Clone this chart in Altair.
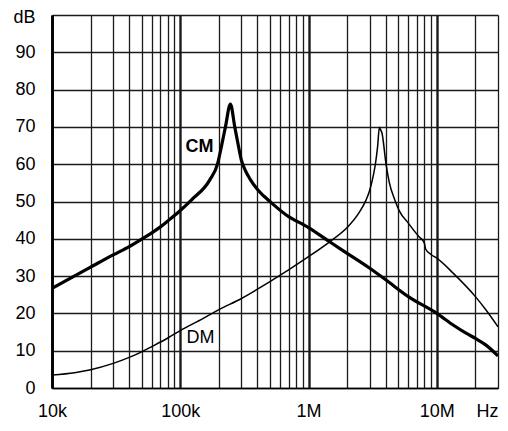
import altair as alt
import pandas as pd

# ---- data ----
cm_freq = [1e4, 2e4, 3e4, 4e4, 5e4, 6e4, 7e4, 8e4, 1e5, 1.22e5, 1.7e5, 1.95e5, 2.1e5, 2.25e5,
           2.46e5, 2.66e5, 2.8e5, 3.0e5, 3.2e5, 3.5e5, 4.0e5, 4.5e5, 5.0e5, 6.7e5, 1e6, 1.46e6,
           2e6, 3e6, 4e6, 6e6, 1e7, 1.34e7, 1.69e7, 2e7, 2.42e7, 3e7]
cm_db = [26.7, 32.4, 35.7, 37.9, 39.9, 41.6, 43.2, 44.8, 47.6, 50.4, 55.8, 60.0, 65.0, 70.0,
         76.1, 70.0, 66.0, 61.0, 58.5, 56.0, 53.2, 51.4, 50.0, 46.4, 43.0, 39.2,
         36.1, 32.1, 29.0, 24.5, 20.0, 16.9, 14.7, 13.3, 11.5, 8.6]

dm_freq = [1e4, 1.5e4, 2e4, 3e4, 4e4, 5e4, 6e4, 8e4, 1e5, 1.5e5, 2e5, 3e5, 4e5, 5e5, 1e6,
           1.46e6, 2e6, 2.5e6, 2.8e6, 3.0e6, 3.2e6, 3.32e6, 3.45e6, 3.57e6, 3.65e6, 3.74e6,
           4.02e6, 4.27e6, 4.7e6, 5.1e6, 6e6, 7.3e6, 7.8e6, 8.0e6, 8.2e6, 9e6, 1e7, 1.34e7,
           2e7, 2.42e7, 3e7]
dm_db = [3.5, 4.1, 4.9, 6.6, 8.2, 9.7, 11.1, 13.4, 15.4, 18.6, 21.0, 24.0, 26.5, 28.5, 35.2,
         39.2, 43.0, 47.2, 50.3, 53.0, 57.0, 60.0, 64.5, 69.9, 69.2, 68.3,
         60.0, 55.0, 50.5, 47.5, 44.2, 40.5, 39.5, 38.8, 37.2, 35.8, 34.8, 30.8,
         24.5, 20.9, 16.4]

label_names = ["CM", "DM"]
label_freq = [1.1e5, 1.12e5]
label_db = [64.5, 13.5]

x_label_values = [1e4, 1e5, 1e6, 1e7, 3e7]
x_label_texts = ["10k", "100k", "1M", "10M", "Hz"]
y_tick_values = [0, 10, 20, 30, 40, 50, 60, 70, 80, 90, 100]
y_tick_labels = ["0", "10", "20", "30", "40", "50", "60", "70", "80", "90", "dB"]

decades = [1e4, 1e5, 1e6, 1e7]
x_grid_values = [m * d for d in decades for m in range(1, 10) if m * d <= 3e7]

df = pd.concat([
    pd.DataFrame({"f": cm_freq, "db": cm_db, "s": "CM"}),
    pd.DataFrame({"f": dm_freq, "db": dm_db, "s": "DM"}),
])
lab = pd.DataFrame({"name": label_names, "f": label_freq, "db": label_db})


def label_expr(vals, texts):
    expr = "''"
    for v, t in reversed(list(zip(vals, texts))):
        expr = f"abs(datum.value - {v}) < {v}*1e-6 + 1e-9 ? '{t}' : ({expr})"
    return expr


FONT = "Liberation Sans"
dec_list = ",".join(str(int(d)) for d in decades)

x_scale = alt.Scale(type="log", domain=[1e4, 3e7], nice=False)
y_scale = alt.Scale(domain=[0, 100], nice=False)

x_axis = alt.Axis(
    values=x_grid_values, labelExpr=label_expr(x_label_values, x_label_texts),
    title=None, ticks=False, tickSize=0, labelPadding=14, labelFontSize=18,
    labelFont=FONT, labelColor="black", labelOverlap=False, labelFlush=False,
    labelBound=False,
    labelAlign={"condition": {"test": "datum.value > 2.9e7", "value": "right"}, "value": "center"},
    grid=True, gridColor="#1a1a1a",
    gridWidth={"condition": {"test": f"indexof([{dec_list}], datum.value) >= 0", "value": 2.4},
               "value": 1.3},
    gridOpacity=1, domainColor="black", domainWidth=1.3,
)
y_axis = alt.Axis(
    values=y_tick_values, labelExpr=label_expr(y_tick_values, y_tick_labels),
    title=None, ticks=False, tickSize=0, labelPadding=17, labelFontSize=18,
    labelFont=FONT, labelColor="black", labelOverlap=False, labelBound=False,
    labelOffset={"condition": {"test": "datum.value > 99", "value": 2.5}, "value": 0},
    grid=True, gridColor="#1a1a1a", gridWidth=1.3, gridOpacity=1,
    domainColor="black", domainWidth=2.8,
)

X = alt.X("f:Q", scale=x_scale, axis=x_axis)
Y = alt.Y("db:Q", scale=y_scale, axis=y_axis)

lines_dm = alt.Chart(df[df.s == "DM"]).mark_line(
    color="black", strokeWidth=1.5, interpolate="monotone", clip=True
).encode(x=X, y=Y)
lines_cm = alt.Chart(df[df.s == "CM"]).mark_line(
    color="black", strokeWidth=3.2, interpolate="monotone", clip=True
).encode(x=X, y=Y)

text_cm = alt.Chart(lab[lab.name == "CM"]).mark_text(
    align="left", baseline="middle", font=FONT, fontSize=18, fontWeight="bold", color="black"
).encode(x=X, y=Y, text="name:N")
text_dm = alt.Chart(lab[lab.name == "DM"]).mark_text(
    align="left", baseline="middle", font=FONT, fontSize=18, color="black"
).encode(x=X, y=Y, text="name:N")

chart = alt.layer(lines_dm, lines_cm, text_cm, text_dm).properties(
    width=446, height=373,
    autosize=alt.AutoSizeParams(type="none"),
    padding={"left": 44, "top": 7, "right": 2, "bottom": 33},
    background="white",
).configure_view(stroke=None)

chart.save("out.html", embed_options={"renderer": "svg", "actions": False})
